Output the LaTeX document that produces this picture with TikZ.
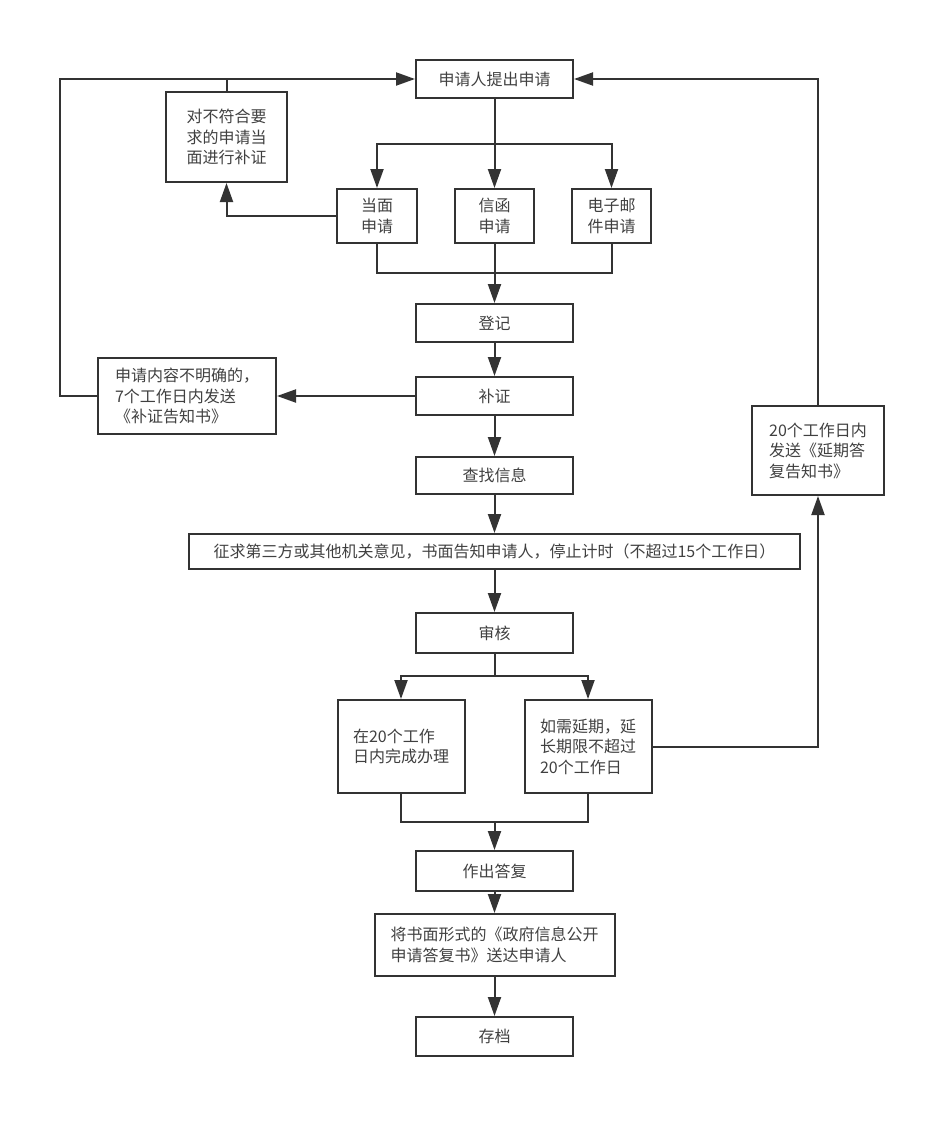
\documentclass[tikz,border=0pt]{standalone}
\usepackage{fontspec}
\setmainfont{Noto Sans CJK SC}
\usetikzlibrary{arrows.meta}
\definecolor{ln}{HTML}{333333}
\definecolor{tx}{HTML}{404040}
\begin{document}
\begin{tikzpicture}[x=1pt, y=-1pt,
	line/.style={draw=ln, line width=2pt},
	arr/.style={line, -{Triangle[length=19pt, width=13pt]}},
	box/.style={line, inner sep=0pt, align=left, text=tx, font=\fontsize{16}{20.5}\selectfont}]
	\useasboundingbox (0, 0) rectangle (926, 1136);
	\node[box, minimum width=157, minimum height=38] (0) at (494.5, 79) {申请人提出申请};
	\node[box, minimum width=121, minimum height=90] (1) at (226.5, 137) {对不符合要\\求的申请当\\面进行补证};
	\node[box, minimum width=80, minimum height=54] (2) at (377, 216) {当面\\申请};
	\node[box, minimum width=79, minimum height=54] (3) at (494.5, 216) {信函\\申请};
	\node[box, minimum width=79, minimum height=54] (4) at (611.5, 216) {电子邮\\件申请};
	\node[box, minimum width=157, minimum height=38] (5) at (494.5, 323) {登记};
	\node[box, minimum width=157, minimum height=38] (6) at (494.5, 396) {补证};
	\node[box, minimum width=178, minimum height=76] (7) at (187, 396) {申请内容不明确的，\\7个工作日内发送\\《补证告知书》};
	\node[box, minimum width=157, minimum height=37] (8) at (494.5, 475.5) {查找信息};
	\node[box, minimum width=611, minimum height=35] (9) at (494.5, 551.5) {征求第三方或其他机关意见，书面告知申请人，停止计时（不超过15个工作日）};
	\node[box, minimum width=157, minimum height=40] (10) at (494.5, 633) {审核};
	\node[box, minimum width=127, minimum height=93] (11) at (401, 746.5) {在20个工作\\日内完成办理};
	\node[box, minimum width=127, minimum height=93] (12) at (588, 746.5) {如需延期，延\\长期限不超过\\20个工作日};
	\node[box, minimum width=157, minimum height=40] (13) at (494.5, 871) {作出答复};
	\node[box, minimum width=240, minimum height=62] (14) at (494.5, 945) {将书面形式的《政府信息公开\\申请答复书》送达申请人};
	\node[box, minimum width=157, minimum height=39] (15) at (494.5, 1036.5) {存档};
	\node[box, minimum width=132, minimum height=89] (16) at (818, 450.5) {20个工作日内\\发送《延期答\\复告知书》};
	\coordinate (a) at (494.5, 144);
	\coordinate (b) at (494.5, 273);
	\coordinate (c) at (60, 396);
	\coordinate (d) at (494.5, 676);
	\coordinate (e) at (494.5, 822);
	\draw[arr] (0.south) to (3.north);
	\draw[arr] (a) -| (2.north);
	\draw[arr] (a) -| (4.north);
	\draw[line] (2.south) |- (b) -| (4.south);
	\draw[arr] (3.south) to (5.north);
	\draw[arr] (2.west) -| (1.south);
	\draw[line] (1.north) to (1.north |- 0.west);
	\draw[arr] (7.west) to (c) |- (0.west);
	\draw[arr] (5.south) to (6.north);
	\draw[arr] (6.west) to (7.east);
	\draw[arr] (6.south) to (8.north);
	\draw[arr] (8.south) to (9.north);
	\draw[arr] (9.south) to (10.north);
	\draw[line] (10.south) to (d);
	\draw[arr] (d) -| (11.north);
	\draw[arr] (d) -| (12.north);
	\draw[line] (11.south) |- (e) -| (12.south);
	\draw[arr] (e) to (13.north);
	\draw[arr] (12.east) -| (16.south);
	\draw[arr] (16.north) |- (0.east);
	\draw[arr] (13.south) to (14.north);
	\draw[arr] (14.south) to (15.north);
\end{tikzpicture}
\end{document}
